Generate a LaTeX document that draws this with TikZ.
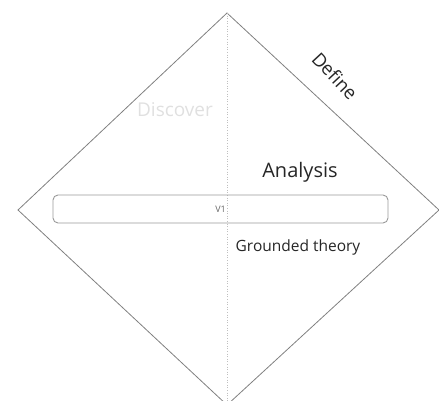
\documentclass[tikz,border=0pt]{standalone}
\usepackage{fontspec}
\setmainfont{Open Sans}
\begin{document}
\begin{tikzpicture}[x=1pt,y=-1pt,
  edge/.style={draw=black!50, line width=0.8pt},
  axis/.style={draw=black!25, dotted, line width=0.6pt},
  bar/.style={draw=black!40, rounded corners=5pt, line width=0.9pt, minimum width=335pt, minimum height=28pt, inner sep=0pt, font=\fontsize{9}{10}\selectfont, text=black!60},
  lbl/.style={inner sep=0pt, text=black!85}]
\useasboundingbox (0,0) rectangle (439,401);
\coordinate (T) at (227,13);
\coordinate (L) at (18,210);
\coordinate (R) at (439,210);
\coordinate (B) at (227,405);
\coordinate (Ab) at (227,401);
\draw[edge] (L) -- (T) -- (R) -- (B) -- cycle;
\draw[axis] (T) -- (Ab);
\node[bar] (v1) at (220.5,209) {V1};
\node[lbl, text=black!12, font=\fontsize{19}{22}\selectfont] (disc) at (175,110) {Discover};
\node[lbl, font=\fontsize{20}{24}\selectfont] (ana) at (300,172) {Analysis};
\node[lbl, font=\fontsize{15.5}{18}\selectfont] (gt) at (298,247) {Grounded theory};
\node[lbl, rotate=-47, font=\fontsize{18.5}{22}\selectfont] (def) at (335,76) {Define};
\end{tikzpicture}
\end{document}
